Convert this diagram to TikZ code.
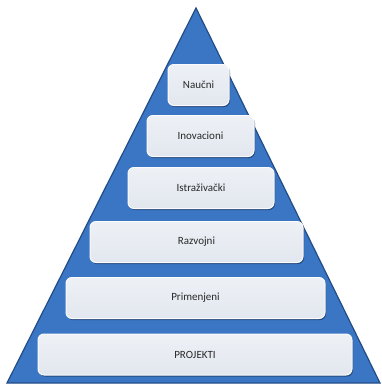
\documentclass[tikz,border=0pt]{standalone}
\usepackage{fontspec}
\setmainfont{Carlito}
\usetikzlibrary{shadows}
\definecolor{pyrblue}{RGB}{58,118,196}
\definecolor{pyredge}{RGB}{34,76,134}
\definecolor{boxfill}{RGB}{226,231,239}
\definecolor{boxtext}{RGB}{40,40,40}
\tikzset{
  level/.style={draw=white!85!boxfill, line width=1pt, rounded corners=6pt,
    top color=boxfill!60!white, bottom color=boxfill,
    text=boxtext, font=\fontsize{11}{13}\selectfont,
    minimum height=41pt, inner sep=0pt,
    drop shadow={shadow xshift=1pt, shadow yshift=-1.5pt, fill=pyredge!70!black, opacity=.7}},
}

\begin{document}
\begin{tikzpicture}[x=1pt, y=-1pt]
    \useasboundingbox (0,0) rectangle (382,386);
    % pyramid
    \fill[pyrblue, draw=pyredge, line width=1.2pt] (196,8) -- (380,383) -- (7,383) -- cycle;
    % levels, top to bottom
    \node[level, minimum width=61pt] (naucni) at (198.5,85) {Naučni};
    \node[level, minimum width=107pt] (inov) at (200.5,136) {Inovacioni};
    \node[level, minimum width=146pt] (istraz) at (201,188) {Istraživački};
    \node[level, minimum width=213pt] (razvoj) at (196.5,242) {Razvojni};
    \node[level, minimum width=259pt] (primen) at (195.5,298) {Primenjeni};
    \node[level, minimum width=314pt] (projekti) at (195,354.5) {PROJEKTI};
\end{tikzpicture}
\end{document}
